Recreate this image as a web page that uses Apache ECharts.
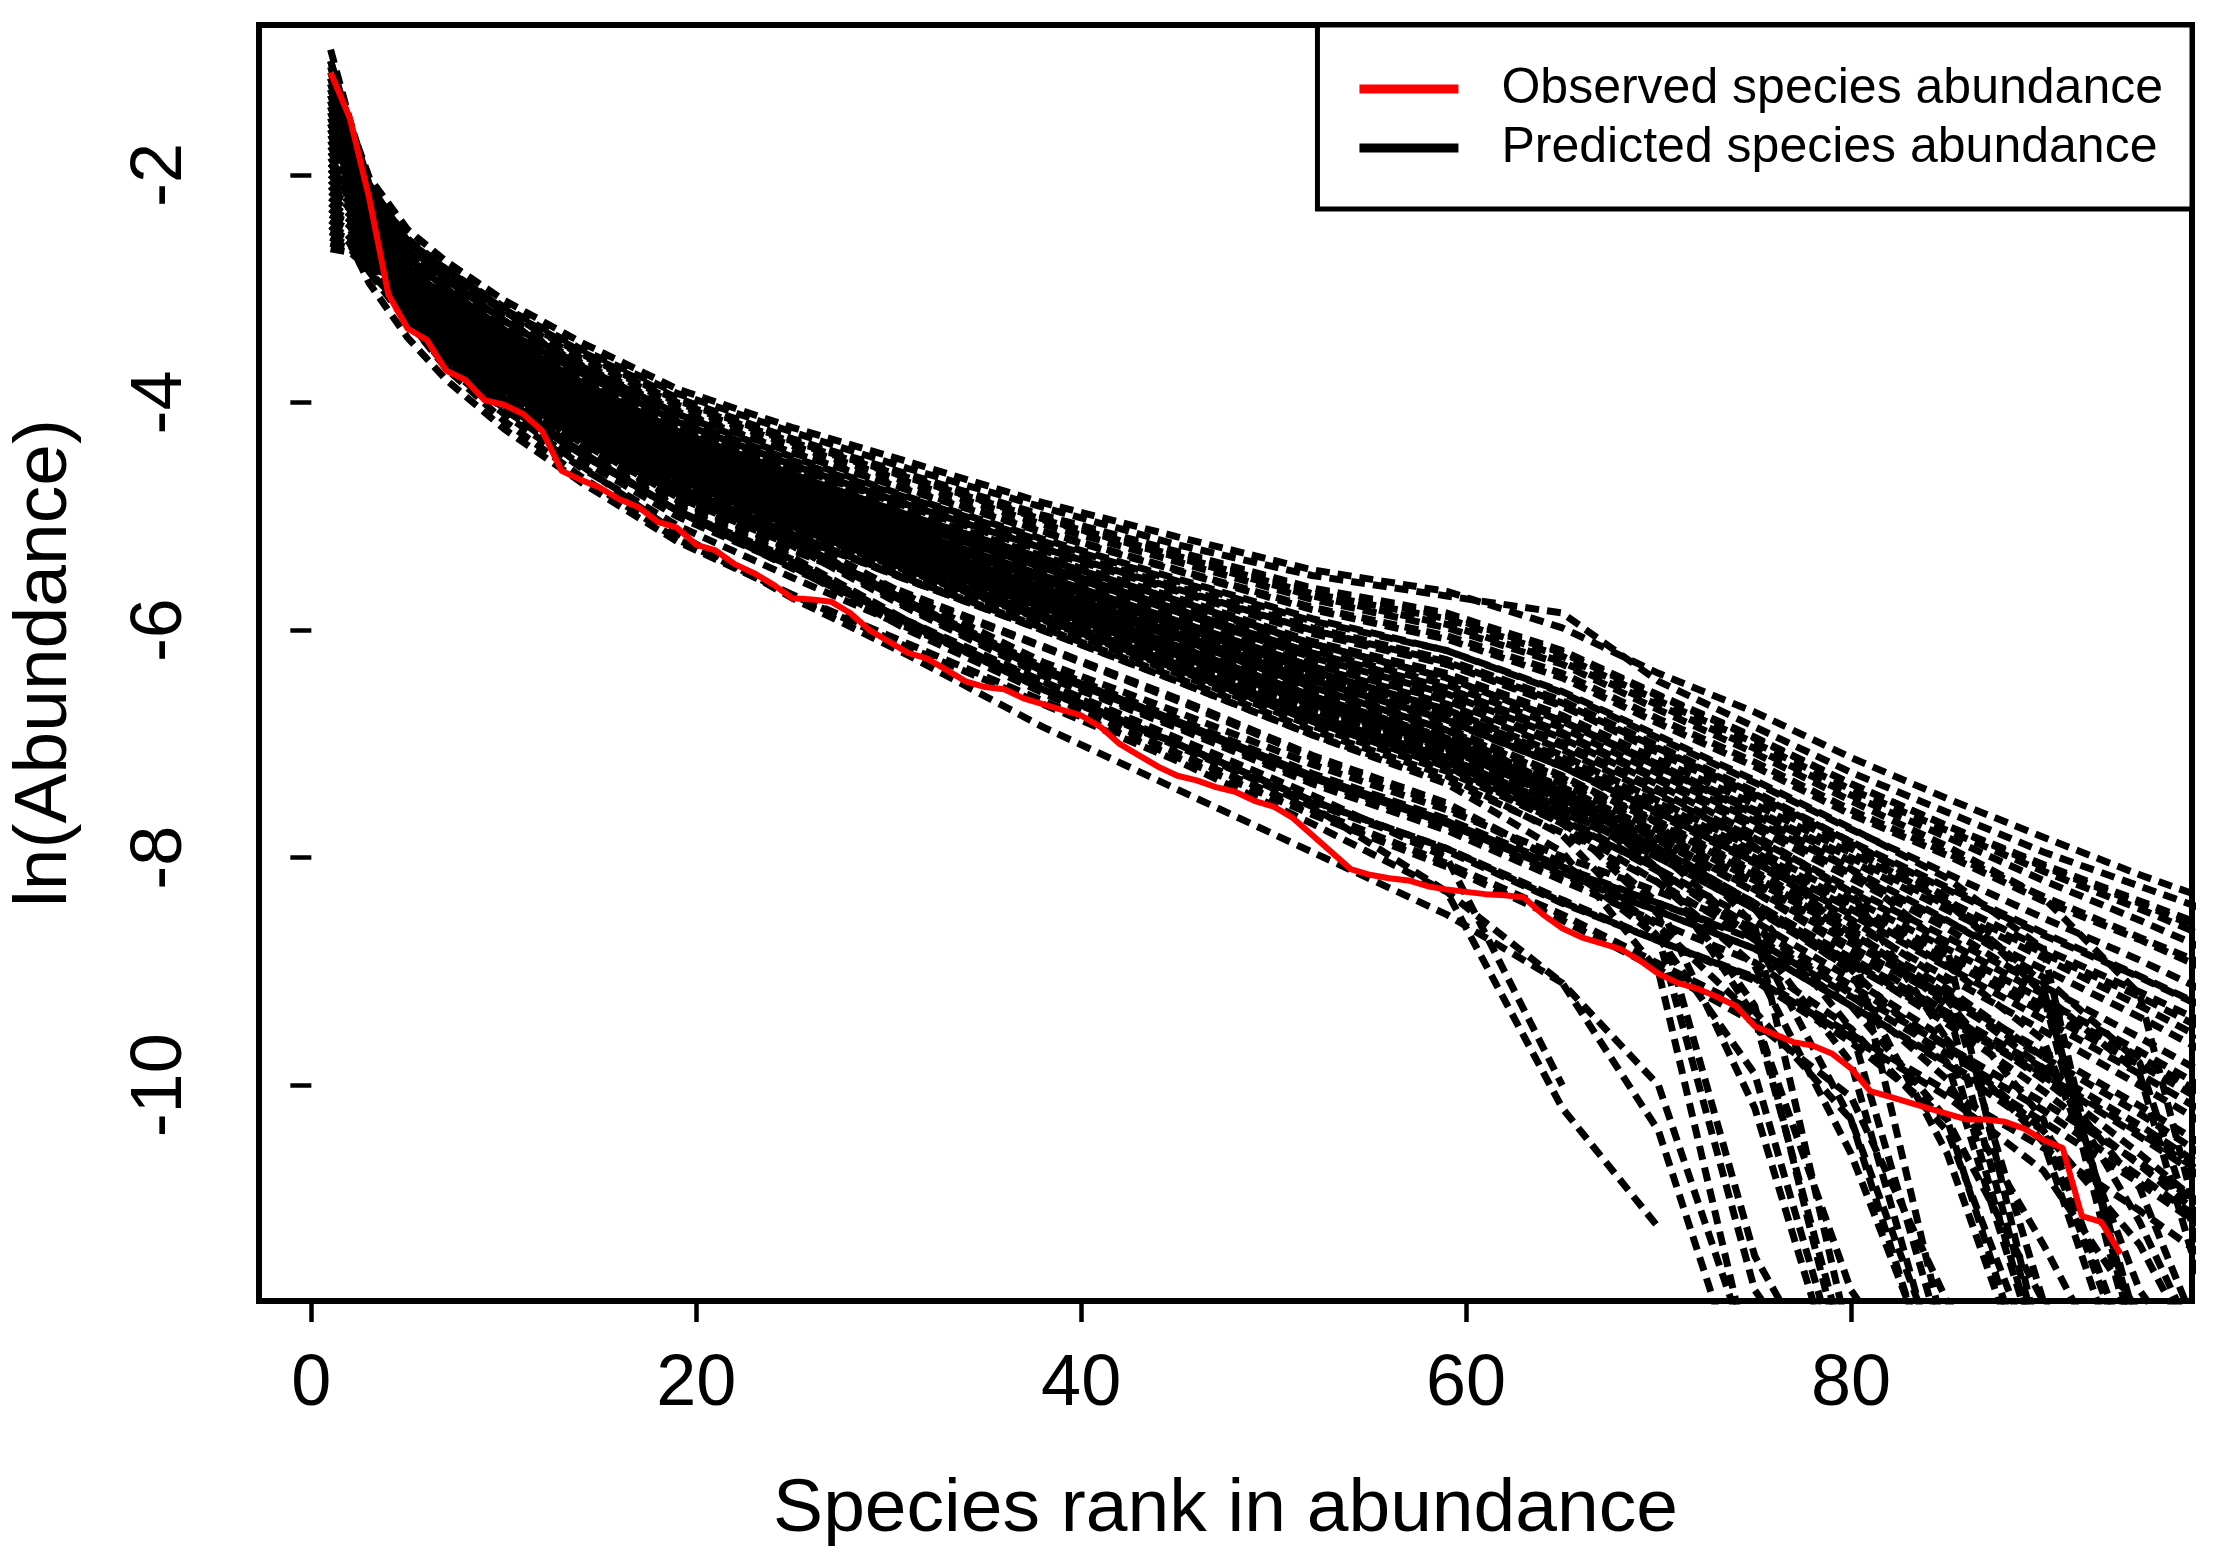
<!DOCTYPE html>
<html>
<head>
<meta charset="utf-8">
<title>Species abundance</title>
<script src="https://cdn.jsdelivr.net/npm/echarts@6/dist/echarts.min.js"></script>
<style>
    html, body { margin: 0; padding: 0; background: #fff; }
    #chart { width: 2217px; height: 1561px; }
</style>
</head>
<body>
<div id="chart"></div>
<script>
const rankGrid = [1, 2, 3, 5, 7, 10, 14, 19, 25, 31, 38, 45, 52, 59, 65, 70, 75, 80, 85, 90, 95, 100]

const xTicks = [0, 20, 40, 60, 80]
const yTicks = [-10, -8, -6, -4, -2]

// observed ln(abundance), ranks 1..94
const observed = [
    -1.10, -1.50, -2.20, -3.05, -3.35, -3.45, -3.72, -3.80, -3.98, -4.02,
    -4.10, -4.25, -4.60, -4.68, -4.75, -4.85, -4.92, -5.05, -5.10, -5.25,
    -5.30, -5.42, -5.50, -5.60, -5.72, -5.73, -5.75, -5.85, -6.00, -6.10,
    -6.20, -6.25, -6.35, -6.45, -6.50, -6.52, -6.60, -6.65, -6.70, -6.75,
    -6.85, -7.00, -7.10, -7.20, -7.28, -7.32, -7.38, -7.42, -7.50, -7.55,
    -7.65, -7.80, -7.95, -8.10, -8.15, -8.18, -8.20, -8.25, -8.28, -8.30,
    -8.32, -8.33, -8.35, -8.50, -8.62, -8.70, -8.75, -8.80, -8.90, -9.02,
    -9.10, -9.15, -9.22, -9.30, -9.48, -9.55, -9.62, -9.65, -9.72, -9.85,
    -10.05, -10.10, -10.15, -10.20, -10.25, -10.30, -10.30, -10.32, -10.38, -10.48,
    -10.55, -11.15, -11.20, -11.48
]

// predicted ln(abundance), one row per simulated community, values at rankGrid
const predicted = [
    [-1.00, -1.55, -2.02, -2.48, -2.76, -3.10, -3.47, -3.88, -4.22, -4.52, -4.88, -5.18, -5.47, -5.66, -5.98, -6.38, -6.72, -7.12, -7.48, -7.82, -8.15, -8.45],
    [-1.40, -1.70, -2.10, -2.56, -2.83, -3.16, -3.53, -3.92, -4.26, -4.58, -4.92, -5.25, -5.52, -5.70, -5.85, -6.45, -6.85, -7.25, -7.60, -7.95, -8.25, -8.55],
    [-1.80, -2.05, -2.30, -2.63, -2.86, -3.20, -3.57, -3.98, -4.34, -4.65, -5.02, -5.33, -5.65, -5.88, -6.20, -6.58, -6.95, -7.35, -7.72, -8.08, -8.40, -8.75],
    [-1.20, -1.62, -2.12, -2.60, -2.88, -3.23, -3.61, -4.02, -4.38, -4.70, -5.07, -5.40, -5.73, -5.98, -6.30, -6.70, -7.08, -7.50, -7.90, -8.35, -9.20, -12.5],
    [-2.30, -2.40, -2.60, -2.73, -2.93, -3.28, -3.67, -4.08, -4.44, -4.77, -5.14, -5.48, -5.82, -6.08, -6.42, -6.82, -7.20, -7.62, -7.98, -8.38, -8.72, -9.10],
    [-1.50, -1.85, -2.25, -2.70, -2.98, -3.33, -3.71, -4.14, -4.51, -4.84, -5.22, -5.57, -5.92, -6.18, -6.55, -6.95, -7.34, -7.75, -8.14, -8.53, -8.90, -9.30],
    [-1.10, -1.60, -2.15, -2.68, -3.00, -3.36, -3.77, -4.20, -4.57, -4.90, -5.28, -5.65, -6.00, -6.30, -6.66, -7.08, -7.48, -7.92, -8.40, -9.10, -12.3],
    [-2.00, -2.15, -2.40, -2.73, -3.03, -3.38, -3.75, -4.18, -4.56, -4.92, -5.30, -5.66, -6.03, -6.30, -6.67, -7.05, -7.45, -7.88, -8.28, -8.68, -9.05, -9.45],
    [-1.30, -1.75, -2.20, -2.76, -3.06, -3.42, -3.82, -4.25, -4.64, -4.98, -5.36, -5.74, -6.12, -6.40, -6.78, -7.20, -7.62, -8.10, -8.80, -12.4],
    [-2.50, -2.58, -2.75, -2.88, -3.06, -3.43, -3.83, -4.26, -4.64, -5.00, -5.38, -5.76, -6.12, -6.42, -6.80, -7.18, -7.58, -8.00, -8.42, -8.84, -9.22, -9.65],
    [-1.60, -1.95, -2.35, -2.80, -3.10, -3.48, -3.88, -4.31, -4.69, -5.05, -5.43, -5.82, -6.20, -6.51, -6.90, -7.30, -7.70, -8.14, -8.56, -8.98, -9.40, -9.85],
    [-1.25, -1.68, -2.22, -2.78, -3.12, -3.50, -3.90, -4.33, -4.71, -5.06, -5.45, -5.84, -6.24, -6.56, -6.95, -7.36, -7.80, -8.30, -9.60, -12.5],
    [-2.10, -2.25, -2.50, -2.86, -3.16, -3.53, -3.93, -4.37, -4.76, -5.11, -5.51, -5.90, -6.30, -6.62, -7.02, -7.42, -7.83, -8.27, -8.70, -9.13, -9.58, -10.05],
    [-1.70, -2.00, -2.40, -2.84, -3.16, -3.54, -3.95, -4.38, -4.78, -5.14, -5.54, -5.94, -6.36, -6.70, -7.15, -7.70, -8.60, -12.3],
    [-1.35, -1.80, -2.30, -2.90, -3.20, -3.58, -3.98, -4.43, -4.82, -5.18, -5.58, -5.98, -6.38, -6.72, -7.12, -7.52, -7.95, -8.40, -8.85, -9.30, -9.75, -10.25],
    [-2.20, -2.35, -2.60, -2.93, -3.20, -3.58, -3.99, -4.44, -4.84, -5.19, -5.60, -6.00, -6.40, -6.75, -7.16, -7.56, -8.00, -8.45, -8.95, -9.60, -11.8, -13.0],
    [-1.45, -1.85, -2.35, -2.93, -3.26, -3.64, -4.05, -4.50, -4.90, -5.26, -5.67, -6.07, -6.50, -6.88, -7.40, -8.10, -9.40, -12.5],
    [-2.60, -2.65, -2.82, -2.98, -3.26, -3.64, -4.05, -4.50, -4.91, -5.27, -5.68, -6.10, -6.52, -6.88, -7.30, -7.68, -8.12, -8.58, -9.05, -9.52, -10.00, -10.50],
    [-1.90, -2.10, -2.45, -2.96, -3.30, -3.68, -4.09, -4.55, -4.96, -5.32, -5.74, -6.16, -6.58, -6.95, -7.38, -7.78, -8.22, -8.70, -9.25, -10.30, -12.6],
    [-1.15, -1.70, -2.28, -2.94, -3.28, -3.66, -4.07, -4.54, -4.94, -5.32, -5.75, -6.17, -6.60, -6.98, -7.42, -7.88, -8.45, -9.50, -12.4],
    [-1.75, -2.05, -2.48, -2.98, -3.33, -3.72, -4.13, -4.60, -5.01, -5.38, -5.80, -6.22, -6.65, -7.02, -7.45, -7.85, -8.30, -8.78, -9.25, -9.75, -10.25, -10.80],
    [-2.35, -2.45, -2.65, -3.00, -3.34, -3.73, -4.15, -4.62, -5.02, -5.40, -5.82, -6.25, -6.70, -7.10, -7.65, -8.50, -11.5, -13.0],
    [-1.55, -1.95, -2.45, -3.02, -3.38, -3.76, -4.18, -4.65, -5.07, -5.44, -5.87, -6.30, -6.75, -7.12, -7.56, -7.98, -8.45, -8.98, -9.80, -12.5],
    [-2.45, -2.55, -2.72, -3.04, -3.38, -3.78, -4.20, -4.67, -5.09, -5.46, -5.90, -6.33, -6.78, -7.16, -7.60, -8.00, -8.45, -8.92, -9.40, -9.90, -10.42, -10.95],
    [-1.05, -1.65, -2.30, -3.04, -3.40, -3.80, -4.23, -4.70, -5.12, -5.50, -5.93, -6.38, -6.84, -7.24, -7.70, -8.22, -8.95, -10.6, -12.8],
    [-2.00, -2.20, -2.55, -3.06, -3.44, -3.84, -4.27, -4.74, -5.16, -5.70, -6.28, -6.72, -7.18, -7.58, -7.99, -8.30, -8.62, -9.12, -9.65, -10.40, -12.7],
    [-1.65, -2.00, -2.50, -3.08, -3.44, -3.84, -4.27, -4.75, -5.17, -5.56, -6.00, -6.45, -6.92, -7.35, -7.95, -9.00, -12.6],
    [-2.20, -2.35, -2.65, -3.10, -3.48, -3.88, -4.31, -4.78, -5.21, -5.75, -6.34, -6.80, -7.28, -7.68, -8.10, -8.40, -8.72, -9.22, -9.72, -10.22, -10.80, -11.40],
    [-1.85, -2.15, -2.60, -3.12, -3.51, -3.92, -4.35, -4.83, -5.26, -5.81, -6.40, -6.86, -7.35, -7.76, -8.20, -8.57, -8.92, -9.50, -10.40, -12.6],
    [-1.35, -1.85, -2.40, -3.10, -3.50, -3.92, -4.37, -4.85, -5.29, -5.68, -6.14, -6.60, -7.10, -7.52, -8.05, -8.70, -9.90, -12.8],
    [-2.55, -2.62, -2.80, -3.16, -3.56, -3.98, -4.43, -4.92, -5.36, -5.92, -6.50, -7.00, -7.50, -7.92, -8.37, -8.73, -9.08, -9.62, -10.30, -11.90, -13.0],
    [-2.10, -2.30, -2.65, -3.23, -3.63, -4.06, -4.50, -5.00, -5.44, -6.00, -6.55, -7.08, -7.58, -8.05, -8.50, -8.93, -9.35, -10.30, -12.6],
    [-2.40, -2.55, -2.85, -3.30, -3.65, -4.05, -4.55, -5.15, -5.72, -6.22, -6.85, -7.40, -7.95, -8.50, -9.10, -10.00, -12.5],
    [-1.95, -2.20, -2.60, -3.13, -3.53, -3.96, -4.43, -4.95, -5.46, -5.92, -6.45, -7.00, -7.55, -8.30, -10.20, -11.25],
    [-1.50, -1.95, -2.55, -3.28, -3.70, -4.16, -4.65, -5.20, -5.69, -6.15, -6.65, -7.15, -7.70, -8.30, -9.10, -10.40, -13.0],
    [-2.30, -2.45, -2.75, -3.28, -3.68, -4.10, -4.57, -5.08, -5.54, -5.98, -6.45, -6.95, -7.45, -8.00, -10.00],
    [-1.25, -1.70, -2.20, -2.66, -2.92, -3.28, -3.65, -4.07, -4.44, -4.76, -5.13, -5.47, -5.80, -6.05, -6.38, -6.78, -7.16, -7.58, -7.96, -8.34, -8.70, -9.05],
    [-1.95, -2.12, -2.42, -2.80, -3.10, -3.46, -3.85, -4.29, -4.67, -5.03, -5.42, -5.80, -6.18, -6.48, -6.86, -7.26, -7.68, -8.10, -8.55, -9.05, -9.80, -12.4],
    [-2.35, -2.42, -2.62, -2.88, -3.18, -3.56, -3.97, -4.41, -4.80, -5.16, -5.56, -5.96, -6.36, -6.70, -7.10, -7.50, -7.92, -8.36, -8.80, -9.25, -9.70, -10.18],
    [-1.60, -1.95, -2.38, -2.94, -3.28, -3.66, -4.08, -4.53, -4.94, -5.31, -5.73, -6.14, -6.56, -6.93, -7.35, -7.76, -8.20, -8.66, -9.15, -9.75, -11.20, -13.0],
    [-1.90, -2.10, -2.50, -3.00, -3.36, -3.74, -4.17, -4.64, -5.05, -5.43, -5.86, -6.29, -6.73, -7.10, -7.54, -7.95, -8.40, -8.88, -9.36, -9.85, -10.35, -10.90],
    [-2.40, -2.48, -2.68, -3.04, -3.40, -3.80, -4.23, -4.70, -5.12, -5.50, -5.94, -6.38, -6.84, -7.23, -7.68, -8.10, -8.56, -9.06, -9.60, -10.50, -13.0],
    [-1.70, -1.98, -2.32, -2.70, -2.98, -3.34, -3.73, -4.16, -4.54, -4.88, -5.26, -5.62, -5.98, -6.26, -6.62, -7.02, -7.42, -7.86, -8.35, -9.20, -12.5],
    [-2.15, -2.25, -2.45, -2.63, -2.86, -3.20, -3.58, -4.00, -4.35, -4.66, -5.03, -5.35, -5.68, -5.90, -6.23, -6.62, -6.99, -7.40, -7.76, -8.12, -8.45, -8.80],
    [-2.05, -2.25, -2.60, -3.11, -3.50, -3.90, -4.34, -4.81, -5.24, -5.79, -6.38, -6.84, -7.32, -7.72, -8.15, -8.47, -8.80, -9.30, -9.82, -10.40, -11.40, -13.0],
    [-2.25, -2.38, -2.65, -2.98, -3.32, -3.70, -4.11, -4.57, -4.98, -5.35, -5.78, -6.20, -6.63, -7.00, -7.45, -7.95, -8.70, -10.30, -13.0],
    [-1.40, -1.80, -2.25, -2.82, -3.13, -3.50, -3.91, -4.35, -4.74, -5.08, -5.48, -5.87, -6.27, -6.60, -6.99, -7.40, -7.90, -8.70, -12.3],
    [-1.00, -1.58, -2.18, -2.90, -3.22, -3.60, -4.01, -4.46, -4.86, -5.22, -5.63, -6.03, -6.44, -6.79, -7.20, -7.60, -8.04, -8.50, -8.96, -9.42, -9.90, -10.40],
    [-2.50, -2.60, -2.85, -3.20, -3.60, -4.02, -4.45, -4.95, -5.40, -5.95, -6.52, -7.02, -7.52, -7.94, -8.40, -8.73, -9.05, -9.55, -10.05, -10.55, -11.10, -11.70],
    [-1.20, -1.72, -2.30, -3.02, -3.38, -3.78, -4.20, -4.68, -5.10, -5.48, -5.91, -6.35, -6.80, -7.20, -7.70, -8.40, -10.20, -13.0],
    [-2.65, -2.68, -2.82, -2.92, -3.05, -3.40, -3.80, -4.23, -4.61, -4.96, -5.35, -5.72, -6.10, -6.38, -6.75, -7.14, -7.53, -7.96, -8.38, -8.80, -9.18, -9.58],
    [-0.90, -1.52, -2.08, -2.58, -2.83, -3.18, -3.55, -3.96, -4.32, -4.63, -4.99, -5.31, -5.63, -5.85, -6.18, -6.57, -6.94, -7.35, -7.72, -8.06, -8.38, -8.70],
    [-2.45, -2.60, -2.95, -3.43, -3.80, -4.23, -4.70, -5.22, -5.69, -6.12, -6.62, -7.12, -7.62, -8.08, -8.55, -8.98, -9.45, -10.10, -11.90, -13.0],
    [-1.65, -1.90, -2.30, -2.72, -3.00, -3.36, -3.74, -4.17, -4.55, -4.90, -5.28, -5.64, -6.00, -6.28, -6.64, -7.04, -7.44, -7.86, -8.26, -8.66, -9.04, -9.44],
    [-2.05, -2.20, -2.45, -2.82, -3.12, -3.48, -3.88, -4.32, -4.70, -5.06, -5.45, -5.84, -6.22, -6.54, -6.92, -7.32, -7.74, -8.18, -8.62, -9.15, -12.2],
    [-1.55, -1.90, -2.35, -2.90, -3.22, -3.58, -3.99, -4.44, -4.84, -5.20, -5.60, -6.00, -6.42, -6.76, -7.16, -7.56, -7.98, -8.44, -8.90, -9.36, -9.82, -10.30],
    [-2.30, -2.40, -2.62, -2.96, -3.26, -3.62, -4.04, -4.49, -4.90, -5.27, -5.68, -6.09, -6.52, -6.88, -7.30, -7.70, -8.14, -8.62, -9.30, -12.4],
    [-1.45, -1.85, -2.38, -2.98, -3.30, -3.68, -4.10, -4.56, -4.97, -5.34, -5.76, -6.18, -6.62, -6.99, -7.42, -7.84, -8.28, -8.75, -9.22, -9.70, -10.18, -10.70],
    [-2.15, -2.30, -2.55, -2.98, -3.34, -3.72, -4.14, -4.61, -5.02, -5.40, -5.82, -6.25, -6.69, -7.06, -7.50, -7.92, -8.40, -9.00, -10.60, -13.0],
    [-1.80, -2.05, -2.45, -3.02, -3.38, -3.76, -4.19, -4.66, -5.08, -5.46, -5.89, -6.32, -6.77, -7.15, -7.58, -8.00, -8.45, -8.94, -9.42, -9.92, -10.45, -11.00],
    [-1.30, -1.72, -2.25, -2.84, -3.16, -3.52, -3.93, -4.37, -4.76, -5.12, -5.52, -5.92, -6.32, -6.65, -7.05, -7.45, -7.86, -8.30, -8.74, -9.20, -9.90, -12.8],
    [-2.30, -2.42, -2.65, -3.06, -3.44, -3.84, -4.27, -4.75, -5.17, -5.56, -6.00, -6.45, -6.92, -7.32, -7.78, -8.22, -8.72, -9.30, -10.30, -13.0],
    [-1.70, -2.00, -2.50, -3.08, -3.47, -3.88, -4.32, -4.80, -5.23, -5.77, -6.36, -6.82, -7.30, -7.70, -8.13, -8.47, -8.80, -9.30, -9.80, -10.32, -10.86, -11.45],
    [-2.25, -2.40, -2.70, -3.13, -3.52, -3.94, -4.38, -4.86, -5.30, -5.70, -6.15, -6.62, -7.12, -7.55, -8.05, -8.60, -9.40, -11.80, -13.0],
    [-1.55, -1.92, -2.45, -3.05, -3.42, -3.82, -4.26, -4.74, -5.16, -5.55, -5.98, -6.42, -6.88, -7.28, -7.80, -8.70, -11.80, -13.0],
    [-2.40, -2.48, -2.66, -2.84, -3.06, -3.42, -3.82, -4.25, -4.63, -4.99, -5.37, -5.74, -6.12, -6.42, -6.80, -7.20, -7.60, -8.03, -8.46, -8.88, -9.30, -9.74],
    [-1.15, -1.60, -2.12, -2.62, -2.92, -3.28, -3.68, -4.10, -4.48, -4.83, -5.20, -5.55, -5.90, -6.18, -6.54, -6.93, -7.32, -7.74, -8.18, -8.80, -12.5],
    [-1.95, -2.15, -2.50, -3.00, -3.32, -3.70, -4.12, -4.58, -4.99, -5.36, -5.78, -6.20, -6.64, -7.02, -7.50, -8.10, -9.30, -12.7],
    [-1.90, -2.15, -2.62, -3.18, -3.58, -4.00, -4.45, -4.95, -5.38, -5.94, -6.52, -7.00, -7.50, -7.92, -8.39, -8.73, -9.06, -9.58, -10.10, -10.75, -12.0, -13.0],
    [-1.55, -1.82, -2.18, -2.58, -2.85, -3.19, -3.56, -3.97, -4.33, -4.66, -5.02, -5.36, -5.70, -5.95, -6.28, -6.66, -7.04, -7.45, -7.82, -8.20, -8.55, -8.92],
    [-2.50, -2.56, -2.70, -2.94, -3.22, -3.60, -4.01, -4.46, -4.86, -5.22, -5.63, -6.04, -6.45, -6.80, -7.20, -7.62, -8.05, -8.54, -9.10, -11.90, -13.0],
    [-1.40, -1.82, -2.38, -3.02, -3.38, -3.77, -4.20, -4.68, -5.09, -5.48, -5.90, -6.34, -6.79, -7.18, -7.64, -8.10, -8.70, -9.80, -12.8],
    [-2.60, -2.64, -2.78, -3.08, -3.45, -3.86, -4.30, -4.78, -5.20, -5.75, -6.32, -6.78, -7.26, -7.66, -8.08, -8.40, -8.70, -9.18, -9.66, -10.15, -10.68, -11.25],
    [-2.20, -2.32, -2.58, -2.95, -3.28, -3.66, -4.06, -4.52, -4.92, -5.30, -5.72, -6.14, -6.58, -6.96, -7.40, -7.82, -8.30, -8.82, -9.36, -9.95, -10.60, -11.30],
    [-1.75, -2.02, -2.42, -2.92, -3.24, -3.62, -4.02, -4.48, -4.88, -5.25, -5.66, -6.07, -6.50, -6.86, -7.28, -7.70, -8.16, -8.66, -9.20, -9.85, -10.90, -13.0],
    [-2.00, -2.18, -2.52, -3.00, -3.36, -3.76, -4.18, -4.66, -5.08, -5.47, -5.90, -6.34, -6.80, -7.20, -7.66, -8.12, -8.62, -9.20, -9.95, -11.40, -13.0],
    [-1.60, -1.92, -2.40, -2.96, -3.30, -3.68, -4.10, -4.57, -4.98, -5.36, -5.78, -6.21, -6.66, -7.04, -7.48, -7.92, -8.40, -8.92, -9.46, -10.05, -10.70, -11.40]
]

const OBSERVED_NAME = 'Observed species abundance'
const PREDICTED_NAME = 'Predicted species abundance'
const FONT = '"Liberation Sans", Arial, Helvetica, sans-serif'

function buildSeries() {
    let series = []

    predicted.forEach(curve => {
        series.push({
            name: PREDICTED_NAME,
            type: 'line',
            symbol: 'none',
            silent: true,
            clip: true,
            itemStyle: { color: '#000' },
            lineStyle: { color: '#000', width: 7, type: [14, 8] },
            data: curve.map((v, i) => [rankGrid[i], v])
        })
    })

    series.push({
        name: OBSERVED_NAME,
        type: 'line',
        symbol: 'none',
        silent: true,
        clip: true,
        z: 5,
        itemStyle: { color: '#ff0000' },
        lineStyle: { color: '#ff0000', width: 6 },
        data: observed.map((v, i) => [i + 1, v])
    })

    return series
}

let chart = echarts.init(document.getElementById('chart'), null, { renderer: 'canvas' })

chart.setOption({
    animation: false,
    backgroundColor: '#fff',
    textStyle: { fontFamily: FONT, color: '#000' },
    grid: {
        left: 257,
        right: 25,
        top: 25,
        bottom: 260,
        show: true,
        borderColor: '#000',
        borderWidth: 6,
        backgroundColor: 'transparent'
    },
    legend: {
        orient: 'vertical',
        right: 25,
        top: 25,
        padding: [39, 29, 36, 42],
        itemGap: 9,
        itemWidth: 99,
        itemHeight: 9,
        borderColor: '#000',
        borderWidth: 5,
        backgroundColor: '#fff',
        selectedMode: false,
        itemStyle: { borderWidth: 0 },
        textStyle: { fontFamily: FONT, fontSize: 50, color: '#000', padding: [0, 0, 0, 38] },
        data: [
            { name: OBSERVED_NAME, icon: 'rect', itemStyle: { color: '#ff0000' } },
            { name: PREDICTED_NAME, icon: 'rect', itemStyle: { color: '#000' } }
        ]
    },
    xAxis: {
        type: 'value',
        min: -2.72,
        max: 97.72,
        name: 'Species rank in abundance',
        nameLocation: 'middle',
        nameGap: 172,
        nameTextStyle: { fontFamily: FONT, fontSize: 75, color: '#000' },
        axisLine: { show: false },
        splitLine: { show: false },
        axisTick: {
            show: true,
            length: 21,
            customValues: xTicks,
            lineStyle: { color: '#000', width: 4.5 }
        },
        axisLabel: {
            customValues: xTicks,
            margin: 48,
            fontFamily: FONT,
            fontSize: 72,
            color: '#000'
        }
    },
    yAxis: {
        type: 'value',
        min: -11.895,
        max: -0.683,
        name: 'ln(Abundance)',
        nameLocation: 'middle',
        nameGap: 176,
        nameRotate: 90,
        nameTextStyle: { fontFamily: FONT, fontSize: 75, color: '#000' },
        axisLine: { show: false },
        splitLine: { show: false },
        axisTick: {
            show: true,
            length: 21,
            customValues: yTicks,
            lineStyle: { color: '#000', width: 4.5 }
        },
        axisLabel: {
            customValues: yTicks,
            rotate: 90,
            margin: 62,
            fontFamily: FONT,
            fontSize: 72,
            color: '#000'
        }
    },
    series: buildSeries()
})
</script>
</body>
</html>
